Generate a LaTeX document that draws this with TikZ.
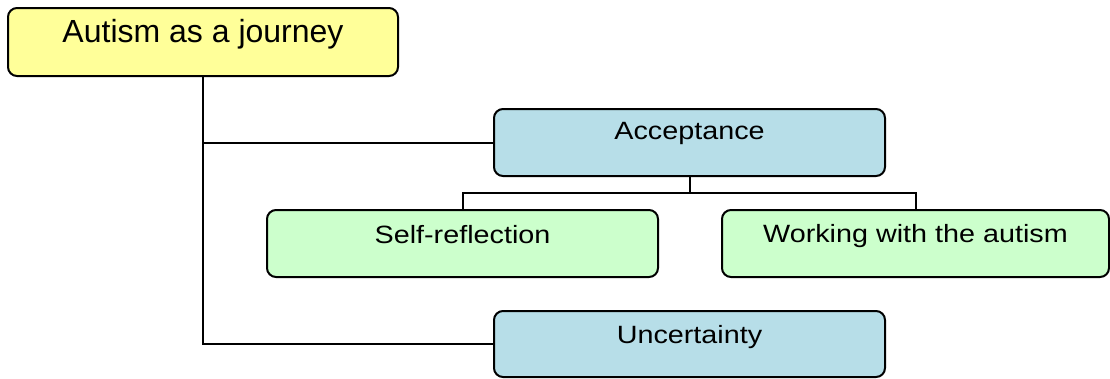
\documentclass[tikz,border=0pt]{standalone}
\usepackage{fontspec}
\setmainfont{Liberation Sans}
\usetikzlibrary{calc}
\definecolor{rootfill}{HTML}{FFFF99}
\definecolor{bluefill}{HTML}{B7DEE8}
\definecolor{greenfill}{HTML}{CCFFCC}
\newcommand{\childtext}[1]{\fontsize{25}{30}\selectfont\scalebox{1.15}[1]{#1}}
\begin{document}
\begin{tikzpicture}[x=1pt,y=-1pt,
  box/.style={draw=black, line width=2pt, rounded corners=9pt, inner sep=0pt, outer sep=0pt, align=center, anchor=north west},
  rootbox/.style={box, fill=rootfill},
  bluebox/.style={box, fill=bluefill},
  greenbox/.style={box, fill=greenfill},
  conn/.style={draw=black, line width=2pt}]
\useasboundingbox (0,0) rectangle (1110,378);

\node[rootbox, minimum width=390pt, text height=34pt, text depth=34pt] (root) at (8,8)
  {\fontsize{32}{38}\selectfont Autism as a journey};
\node[bluebox, minimum width=391pt, text height=30pt, text depth=37pt] (acc) at (494,109)
  {\childtext{Acceptance}};
\node[greenbox, minimum width=391pt, text height=33pt, text depth=34pt] (self) at (267,210)
  {\childtext{Self-reflection}};
\node[greenbox, minimum width=387pt, text height=32pt, text depth=35pt] (work) at (722,210)
  {\childtext{Working with the autism}};
\node[bluebox, minimum width=391pt, text height=32pt, text depth=34pt] (unc) at (494,311)
  {\childtext{Uncertainty}};

\coordinate (mid) at ($(acc.south)!0.5!(acc.south |- self.north)$);

\draw[conn] (root.south) -- (root.south |- unc.west) -- (unc.west);
\draw[conn] (root.south |- acc.west) -- (acc.west);
\draw[conn] (acc.south) -- (mid);
\draw[conn] (self.north) -- (self.north |- mid) -- (work.north |- mid) -- (work.north);
\end{tikzpicture}
\end{document}
